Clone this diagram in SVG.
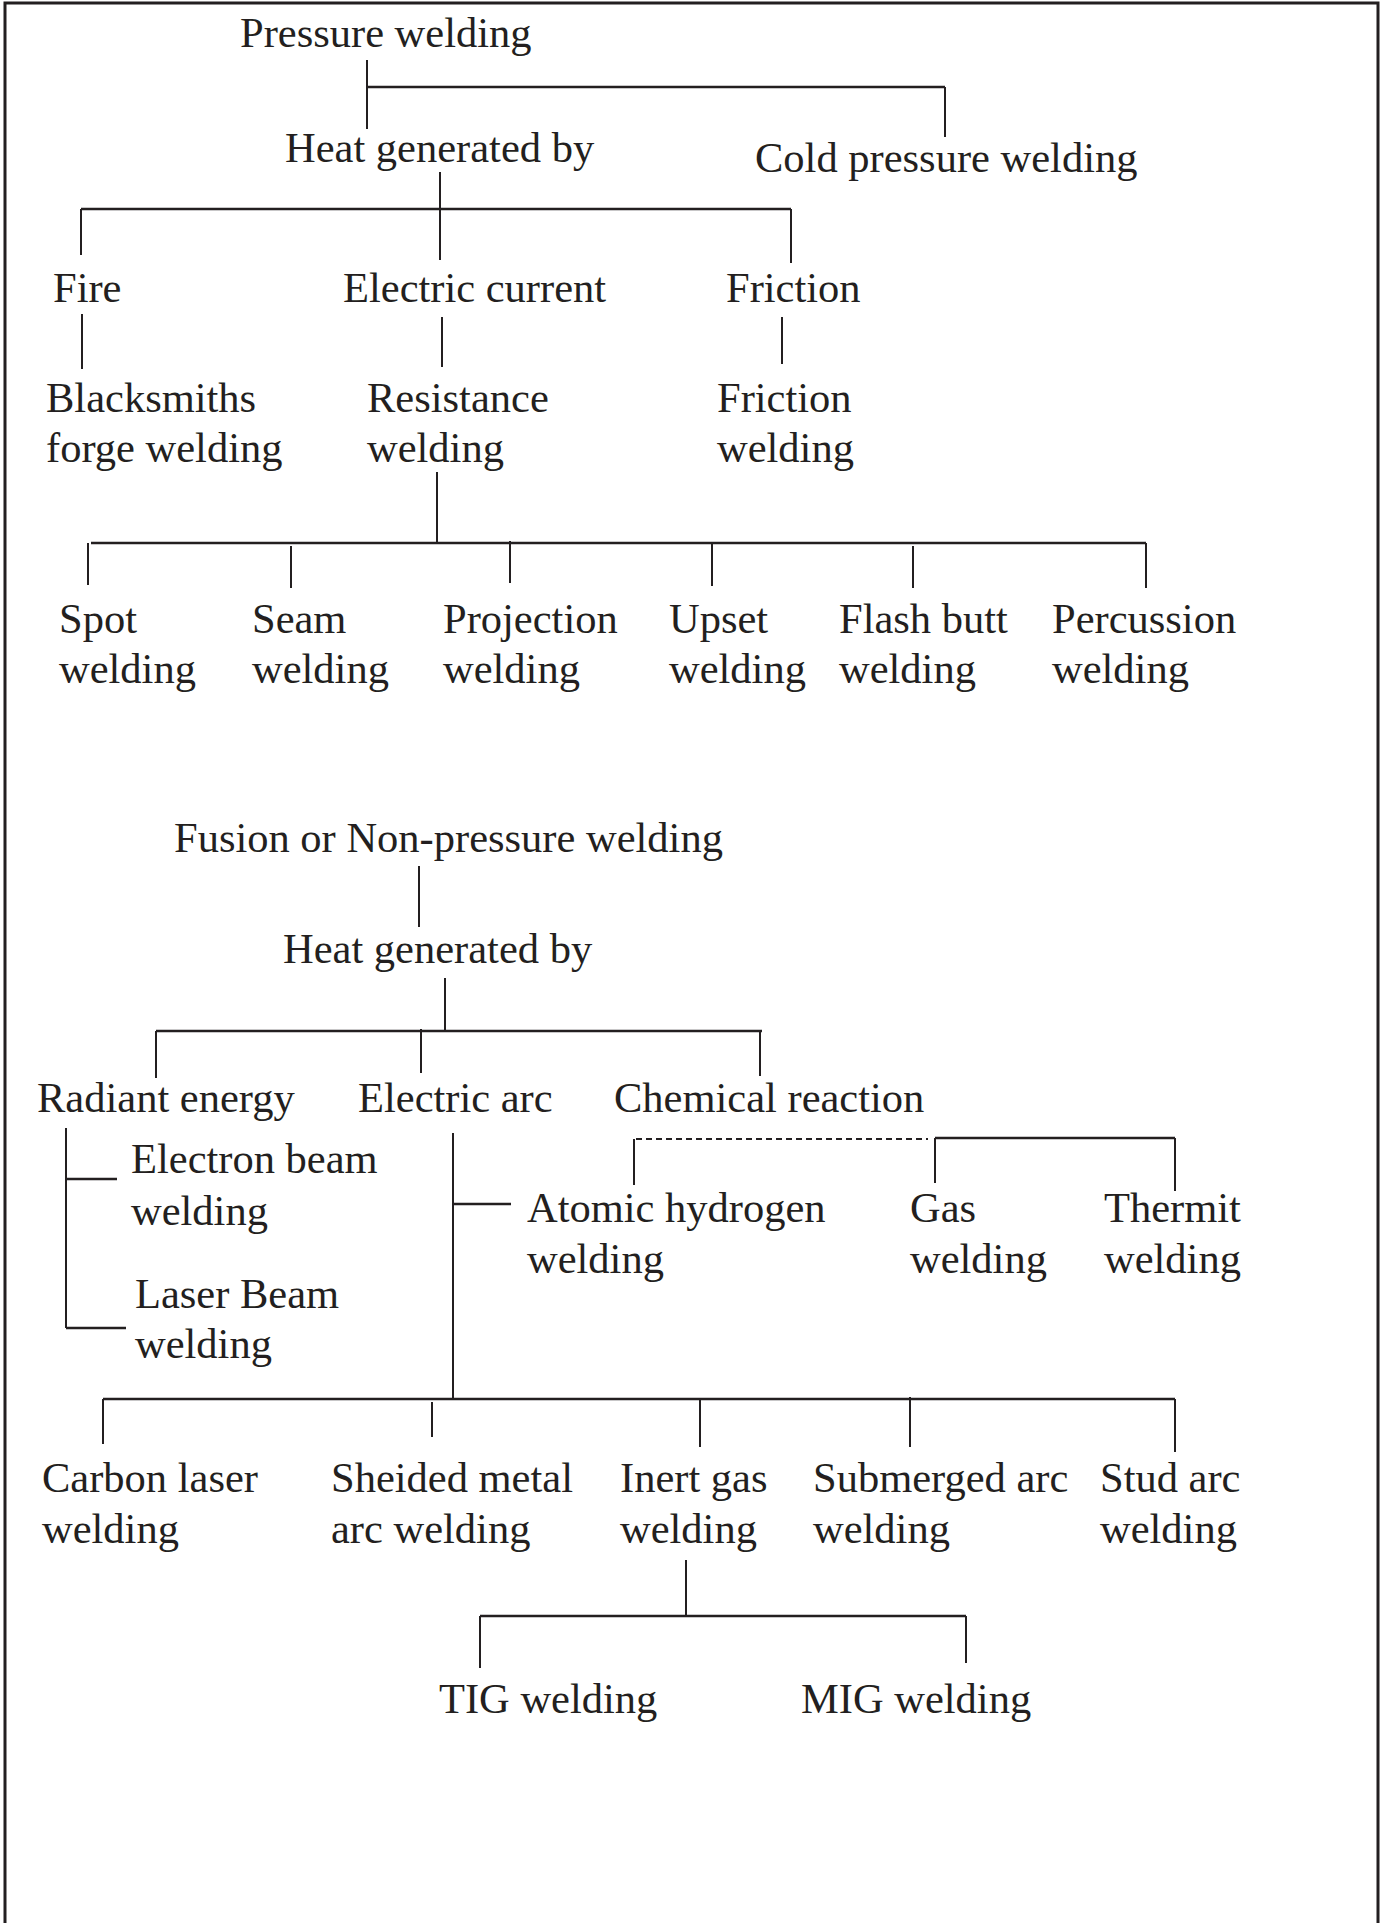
<svg xmlns="http://www.w3.org/2000/svg" width="1383" height="1923" viewBox="0 0 1383 1923">
<style>
text{font-family:"Liberation Serif","Times New Roman",serif;font-size:42.5px;fill:#231f20}
.c path{fill:none;stroke:#231f20;stroke-width:2}
.c .h{stroke-width:2.6}
.c .d{stroke-dasharray:6 4;stroke-width:2.2}
.frame{fill:none;stroke:#231f20;stroke-width:3}
</style>
<rect width="1383" height="1923" fill="#fff"/>
<path class="frame" d="M5,1923 V3 H1378 V1923"/>
<g class="c" id="connectors">
<path d="M367,60 V129"/><path class="h" d="M367,87 H945"/><path d="M945,87 V137"/>
<path d="M440,172 V260"/><path class="h" d="M81,209 H791"/><path d="M81,209 V255"/><path d="M791,209 V263"/>
<path d="M82,314 V369"/><path d="M442,317 V367"/><path d="M782,317 V364"/>
<path d="M437,472 V543"/><path class="h" d="M91,543 H1146"/>
<path d="M88,543 V585"/><path d="M291,546 V588"/><path d="M510,541 V583"/><path d="M712,543 V586"/><path d="M913,546 V588"/><path d="M1146,543 V588"/>
<path d="M419,866 V927"/><path d="M445,978 V1031"/><path class="h" d="M156,1031 H762"/>
<path d="M156,1031 V1078"/><path d="M421,1029 V1073"/><path d="M760,1031 V1076"/>
<path d="M66,1128 V1328"/><path class="h" d="M66,1179 H117"/><path class="h" d="M66,1328 H126"/>
<path d="M453,1133 V1399"/><path class="h" d="M453,1204 H511"/>
<path class="d" d="M636,1139 H928"/>
<path class="h" d="M935,1138 H1175"/><path d="M634,1139 V1185"/><path d="M935,1138 V1183"/><path d="M1175,1138 V1191"/>
<path class="h" d="M103,1399 H1175"/>
<path d="M103,1399 V1444"/><path d="M432,1402 V1437"/><path d="M700,1399 V1447"/><path d="M910,1397 V1447"/><path d="M1175,1399 V1452"/>
<path d="M686,1560 V1617"/><path class="h" d="M480,1616 H966"/><path d="M480,1616 V1668"/><path d="M966,1616 V1663"/>
</g>
<g id="pressure-welding"><text x="240" y="47">Pressure welding</text></g>
<g id="heat-1"><text x="285" y="162">Heat generated by</text></g>
<g id="cold-pressure"><text x="755" y="172">Cold pressure welding</text></g>
<g id="fire"><text x="53" y="302">Fire</text></g>
<g id="electric-current"><text x="343" y="302">Electric current</text></g>
<g id="friction"><text x="726" y="302">Friction</text></g>
<g id="blacksmiths"><text x="46" y="412">Blacksmiths</text><text x="46" y="462">forge welding</text></g>
<g id="resistance"><text x="367" y="412">Resistance</text><text x="367" y="462">welding</text></g>
<g id="friction-welding"><text x="717" y="412">Friction</text><text x="717" y="462">welding</text></g>
<g id="spot"><text x="59" y="633">Spot</text><text x="59" y="683">welding</text></g>
<g id="seam"><text x="252" y="633">Seam</text><text x="252" y="683">welding</text></g>
<g id="projection"><text x="443" y="633">Projection</text><text x="443" y="683">welding</text></g>
<g id="upset"><text x="669" y="633">Upset</text><text x="669" y="683">welding</text></g>
<g id="flash-butt"><text x="839" y="633">Flash butt</text><text x="839" y="683">welding</text></g>
<g id="percussion"><text x="1052" y="633">Percussion</text><text x="1052" y="683">welding</text></g>
<g id="fusion"><text x="174" y="852">Fusion or Non-pressure welding</text></g>
<g id="heat-2"><text x="283" y="963">Heat generated by</text></g>
<g id="radiant"><text x="37" y="1112">Radiant energy</text></g>
<g id="electric-arc"><text x="358" y="1112">Electric arc</text></g>
<g id="chemical"><text x="614" y="1112">Chemical reaction</text></g>
<g id="electron-beam"><text x="131" y="1173">Electron beam</text><text x="131" y="1225">welding</text></g>
<g id="atomic-hydrogen"><text x="527" y="1222">Atomic hydrogen</text><text x="527" y="1273">welding</text></g>
<g id="gas"><text x="910" y="1222">Gas</text><text x="910" y="1273">welding</text></g>
<g id="thermit"><text x="1104" y="1222">Thermit</text><text x="1104" y="1273">welding</text></g>
<g id="laser-beam"><text x="135" y="1308">Laser Beam</text><text x="135" y="1358">welding</text></g>
<g id="carbon-laser"><text x="42" y="1492">Carbon laser</text><text x="42" y="1543">welding</text></g>
<g id="shielded-metal"><text x="331" y="1492">Sheided metal</text><text x="331" y="1543">arc welding</text></g>
<g id="inert-gas"><text x="620" y="1492">Inert gas</text><text x="620" y="1543">welding</text></g>
<g id="submerged-arc"><text x="813" y="1492">Submerged arc</text><text x="813" y="1543">welding</text></g>
<g id="stud-arc"><text x="1100" y="1492">Stud arc</text><text x="1100" y="1543">welding</text></g>
<g id="tig"><text x="439" y="1713">TIG welding</text></g>
<g id="mig"><text x="801" y="1713">MIG welding</text></g>
</svg>
